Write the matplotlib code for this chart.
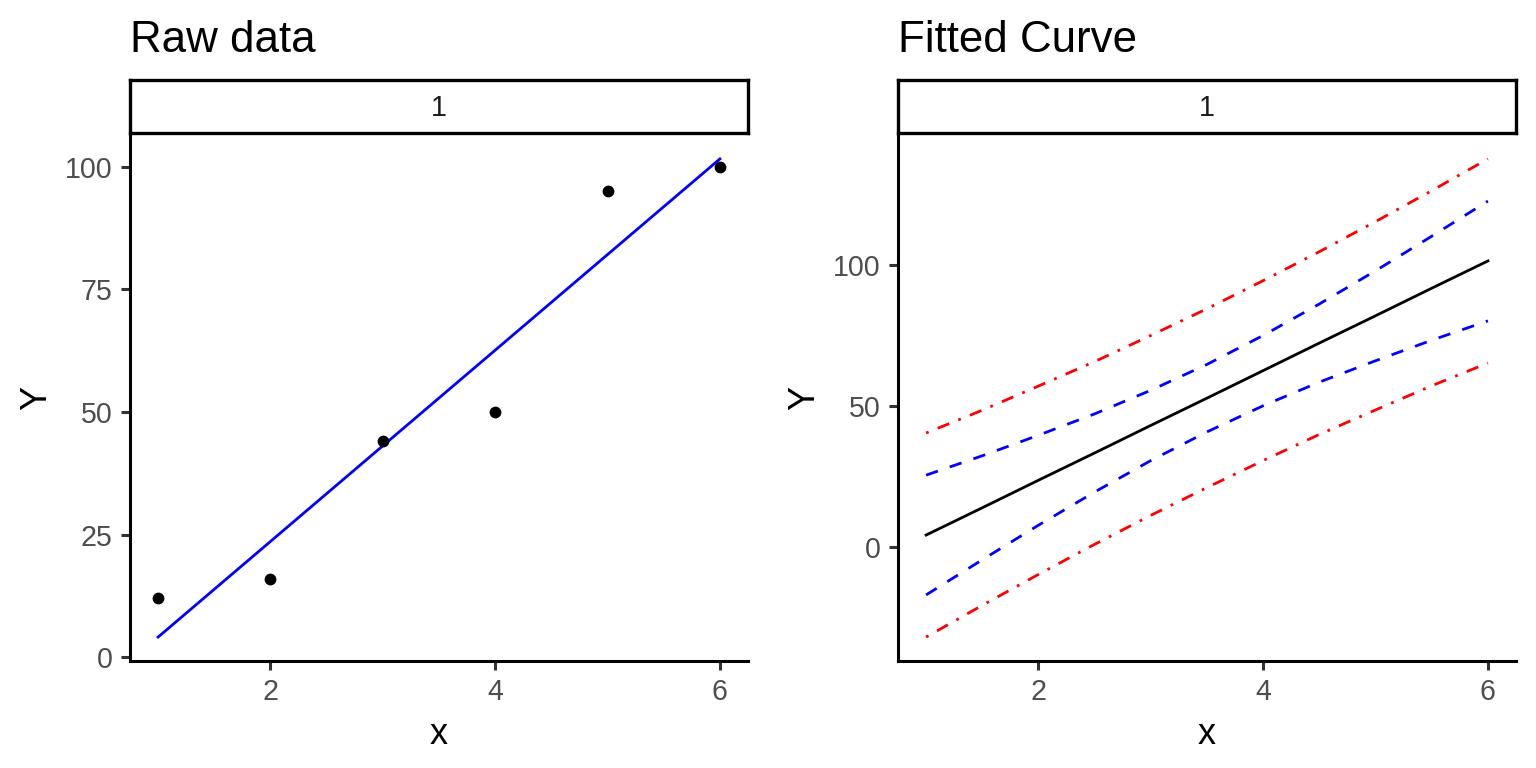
import numpy as np
import matplotlib
matplotlib.use("Agg")
from matplotlib import pyplot as plt

plt.rcParams['font.family'] = ['Liberation Sans', 'DejaVu Sans']

# raw observations
x_raw = [1, 2, 3, 4, 5, 6]
y_raw = [12, 16, 44, 50, 95, 100]

# fitted curve and bands
x_fit = [1, 1.5, 2, 2.5, 3, 3.5, 4, 4.5, 5, 5.5, 6]
y_fit = [4.1, 13.8, 23.6, 33.3, 43.1, 52.8, 62.6, 72.4, 82.1, 91.9, 101.6]
conf_hi = [25.4, 32.3, 39.6, 47.2, 55.6, 64.8, 75.1, 86.3, 98.1, 110.4, 122.9]
conf_lo = [-17.2, -4.7, 7.6, 19.4, 30.6, 40.8, 50.1, 58.5, 66.1, 73.4, 80.3]
pred_hi = [40.4, 48.5, 57.1, 65.8, 75.1, 84.6, 94.6, 104.9, 115.6, 126.6, 137.9]
pred_lo = [-32.2, -20.9, -9.9, 0.8, 11.1, 21.0, 30.6, 39.9, 48.6, 57.2, 65.3]

left_yticks = [0, 25, 50, 75, 100]
right_yticks = [0, 50, 100]
xticks = [2, 4, 6]
strip_label = "1"

W, H = 1536, 768
fig = plt.figure(figsize=(7.68, 3.84), dpi=200)

tick_col = '#4D4D4D'
axis_lw = 1.1
data_lw = 1.0


def expand(lo, hi, f=0.05):
    d = (hi - lo) * f
    return lo - d, hi + d


def make_panel(x0, title):
    ax = fig.add_axes([x0 / W, 107 / H, 618 / W, 526 / H])
    for s in ['top', 'right']:
        ax.spines[s].set_visible(False)
    for s in ['left', 'bottom']:
        ax.spines[s].set_linewidth(axis_lw)
    ax.tick_params(length=3.2, width=axis_lw, color='#333333',
                   labelsize=10.3, labelcolor=tick_col, pad=3.0)
    ax.set_xlabel('x', fontsize=13, labelpad=4)
    ax.set_ylabel('Y', fontsize=13, labelpad=4)
    ax.set_xticks(xticks)
    ax.set_xlim(*expand(1, 6))
    # facet strip
    st = fig.add_axes([x0 / W, (H - 133) / H, 618 / W, 53 / H])
    st.set_xticks([])
    st.set_yticks([])
    for s in st.spines.values():
        s.set_linewidth(1.2)
    st.text(0.5, 0.48, strip_label, ha='center', va='center', fontsize=10.3, color='#1A1A1A')
    fig.text(x0 / W, (H - 52) / H, title, fontsize=15.8, ha='left', va='baseline')
    return ax


ax1 = make_panel(130, 'Raw data')
ax1.scatter(x_raw, y_raw, s=18, color='black', zorder=3, linewidths=0)
ax1.plot([x_fit[0], x_fit[-1]], [y_fit[0], y_fit[-1]], color='blue', lw=data_lw)
ax1.set_yticks(left_yticks)
ax1.set_ylim(*expand(min(y_fit[0], min(y_raw)), max(y_fit[-1], max(y_raw))))

ax2 = make_panel(898, 'Fitted Curve')
ax2.plot(x_fit, y_fit, color='black', lw=data_lw)
ax2.plot(x_fit, conf_hi, color='blue', lw=data_lw, dashes=(4.5, 4.5))
ax2.plot(x_fit, conf_lo, color='blue', lw=data_lw, dashes=(4.5, 4.5))
ax2.plot(x_fit, pred_hi, color='red', lw=data_lw, dashes=(1, 3.5, 4.5, 3.5))
ax2.plot(x_fit, pred_lo, color='red', lw=data_lw, dashes=(1, 3.5, 4.5, 3.5))
ax2.set_yticks(right_yticks)
ax2.set_ylim(*expand(min(pred_lo), max(pred_hi)))

fig.savefig('out.png', dpi=200)
